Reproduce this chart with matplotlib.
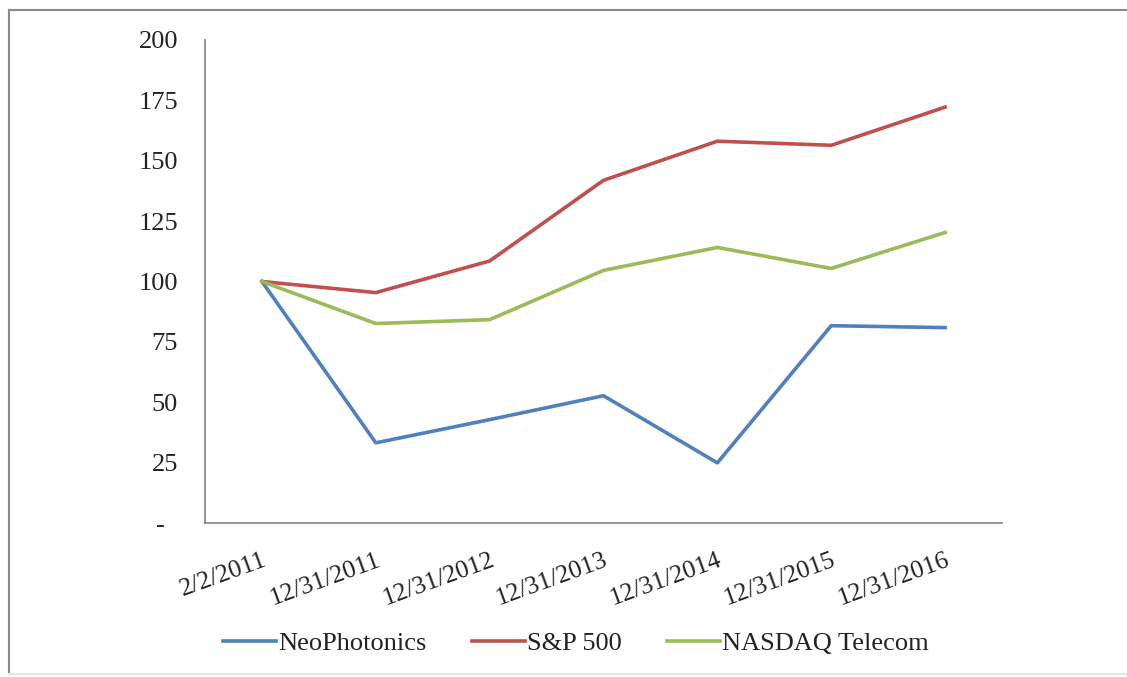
import matplotlib.pyplot as plt
from matplotlib.lines import Line2D

dates = ['2/2/2011', '12/31/2011', '12/31/2012', '12/31/2013',
         '12/31/2014', '12/31/2015', '12/31/2016']
neo = [100, 33.2, 42.8, 52.7, 24.9, 81.7, 80.9]
sp500 = [100, 95.4, 108.5, 141.9, 158.1, 156.4, 172.2]
nasdaq = [100, 82.6, 84.2, 104.6, 114.1, 105.4, 120.3]
yticks = [0, 25, 50, 75, 100, 125, 150, 175, 200]
ylabels = ['-  ', '25', '50', '75', '100', '125', '150', '175', '200']

plt.rcParams['font.family'] = ['Liberation Serif', 'DejaVu Serif']

fig = plt.figure(figsize=(11.27, 6.77), dpi=100)
ax = fig.add_axes([205 / 1127, 1 - 523 / 677, 797 / 1127, 483 / 677])

x = range(len(dates))
ax.plot(x, neo, color='#4F81BD', lw=2.6, label='NeoPhotonics')
ax.plot(x, sp500, color='#C0504D', lw=2.6, label='S&P 500')
ax.plot(x, nasdaq, color='#9BBB59', lw=2.6, label='NASDAQ Telecom')

ax.set_xlim(-0.5, 6.5)
ax.set_ylim(0, 200)
ax.set_yticks(yticks)
ax.set_yticklabels(ylabels)
ax.set_xticks(list(x))
ax.set_xticklabels(dates, rotation=20, ha='right', va='top', rotation_mode='anchor')
ax.tick_params(axis='y', length=0, pad=19.5, labelsize=19, labelcolor='#222222')
ax.tick_params(axis='x', length=0, pad=19, labelsize=18.5, labelcolor='#222222')

for s in ['top', 'right']:
    ax.spines[s].set_visible(False)
for s in ['left', 'bottom']:
    ax.spines[s].set_color('#8c8c8c')
    ax.spines[s].set_linewidth(1.3)

leg = ax.legend(loc='center', bbox_to_anchor=(576 / 1127, 1 - 643 / 677),
                bbox_transform=fig.transFigure, ncol=3, frameon=False,
                fontsize=19, handlelength=2.0, handletextpad=0.1,
                columnspacing=1.7)
for t in leg.get_texts():
    t.set_color('#222222')

# outer frame of the picture
fig.add_artist(Line2D([9 / 1127, 1.0], [1 - 10 / 677] * 2, color='#8a8a8a', lw=1.5))
fig.add_artist(Line2D([9 / 1127] * 2, [1 - 10 / 677, 1 - 674 / 677], color='#8a8a8a', lw=1.5))
fig.add_artist(Line2D([9 / 1127, 1.0], [1 - 674 / 677] * 2, color='#e6e6e6', lw=1.5))

fig.savefig('out.png', dpi=100)
